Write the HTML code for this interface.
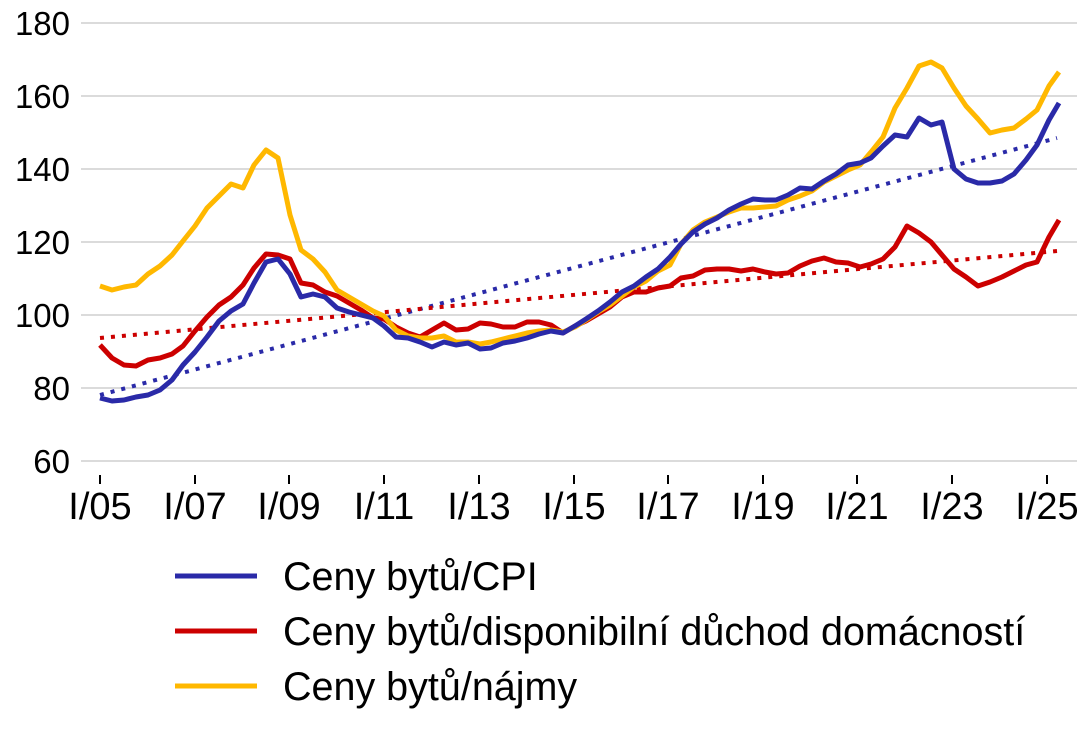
<!DOCTYPE html>
<html><head><meta charset="utf-8"><style>
body{margin:0;background:#fff}
svg text{font-family:"Liberation Sans",Arial,sans-serif;fill:#000}
</style></head><body>
<svg width="1087" height="729" xmlns="http://www.w3.org/2000/svg">
<g stroke="#cfcfcf" stroke-width="1.5">
<line x1="81" x2="1077" y1="23" y2="23"/><line x1="81" x2="1077" y1="96" y2="96"/><line x1="81" x2="1077" y1="169" y2="169"/><line x1="81" x2="1077" y1="242" y2="242"/><line x1="81" x2="1077" y1="315" y2="315"/><line x1="81" x2="1077" y1="388" y2="388"/><line x1="81" x2="1077" y1="461" y2="461"/>
</g>
<g font-size="33" text-anchor="end">
<text x="70" y="35">180</text><text x="70" y="108">160</text><text x="70" y="181">140</text><text x="70" y="254">120</text><text x="70" y="327">100</text><text x="70" y="400">80</text><text x="70" y="473">60</text>
</g>
<g stroke="#000" stroke-width="2">
<line x1="100" x2="100" y1="475" y2="484"/><line x1="195" x2="195" y1="475" y2="484"/><line x1="289" x2="289" y1="475" y2="484"/><line x1="384" x2="384" y1="475" y2="484"/><line x1="479" x2="479" y1="475" y2="484"/><line x1="574" x2="574" y1="475" y2="484"/><line x1="668" x2="668" y1="475" y2="484"/><line x1="763" x2="763" y1="475" y2="484"/><line x1="857" x2="857" y1="475" y2="484"/><line x1="952" x2="952" y1="475" y2="484"/><line x1="1047" x2="1047" y1="475" y2="484"/>
</g>
<g font-size="38" text-anchor="middle">
<text x="100" y="519">I/05</text><text x="195" y="519">I/07</text><text x="289" y="519">I/09</text><text x="384" y="519">I/11</text><text x="479" y="519">I/13</text><text x="574" y="519">I/15</text><text x="668" y="519">I/17</text><text x="763" y="519">I/19</text><text x="857" y="519">I/21</text><text x="952" y="519">I/23</text><text x="1047" y="519">I/25</text>
</g>
<line x1="100" y1="395" x2="1057" y2="138" stroke="#2a2aa8" stroke-width="4" stroke-dasharray="4,7"/>
<line x1="100" y1="338" x2="1057" y2="251" stroke="#cc0000" stroke-width="4" stroke-dasharray="4,7"/>
<g fill="none" stroke-width="5" stroke-linejoin="round">
<polyline stroke="#cc0000" points="100,345 112,358 124,365 136,366 148,360 160,358 172,354 183,346 195,331 207,317 219,305 231,297 243,285 254,268 266,254 278,255 290,259 301,283 313,285 325,292 337,296 349,303 361,310 373,318 384,319 396,327 408,333 420,337 432,330 444,323 456,330 468,329 480,323 491,324 503,327 515,327 527,322 539,322 551,325 563,333 575,326 586,321 598,314 610,307 622,297 634,292 646,292 658,288 670,286 681,278 693,276 705,270 717,269 729,269 741,271 753,269 765,272 776,274 788,273 800,266 812,261 824,258 836,262 848,263 860,267 871,264 883,259 895,247 907,226 919,233 931,242 942,255 954,269 966,277 978,286 990,282 1002,277 1014,271 1026,265 1037,262 1049,237 1059,220"/>
<polyline stroke="#ffb800" points="100,286 112,290 124,287 136,285 148,274 160,266 172,255 183,241 195,226 207,208 219,196 231,184 243,188 254,165 266,150 278,158 290,215 301,250 313,259 325,272 337,290 349,297 361,304 373,311 384,316 396,330 408,336 420,338 432,338 444,336 456,342 468,342 480,344 491,342 503,339 515,336 527,333 539,331 551,330 563,332 575,327 586,320 598,312 610,305 622,296 634,287 646,281 658,271 670,265 681,244 693,230 705,222 717,217 729,212 741,208 753,208 765,207 776,206 788,200 800,196 812,191 824,182 836,176 848,170 860,165 871,152 883,137 895,108 907,88 919,66 931,62 942,68 954,88 966,106 978,119 990,133 1002,130 1014,128 1026,119 1037,110 1049,86 1059,72"/>
<polyline stroke="#2a2aa8" points="100,398 112,401 124,400 136,397 148,395 160,390 172,380 183,365 195,352 207,337 219,321 231,311 243,304 254,283 266,262 278,259 290,274 301,297 313,294 325,297 337,308 349,312 361,315 373,318 384,326 396,337 408,338 420,342 432,347 444,342 456,345 468,343 480,349 491,348 503,343 515,341 527,338 539,334 551,331 563,333 575,326 586,319 598,311 610,302 622,292 634,286 646,277 658,269 670,257 681,244 693,232 705,224 717,218 729,210 741,204 753,199 765,200 776,200 788,195 800,188 812,189 824,181 836,174 848,165 860,163 871,158 883,146 895,135 907,137 919,118 931,125 942,122 954,169 966,179 978,183 990,183 1002,181 1014,174 1026,160 1037,145 1049,120 1059,103"/>
</g>
<g stroke-width="5">
<line x1="175" x2="257" y1="576" y2="576" stroke="#2a2aa8"/>
<line x1="175" x2="257" y1="631" y2="631" stroke="#cc0000"/>
<line x1="175" x2="257" y1="686" y2="686" stroke="#ffb800"/>
</g>
<g font-size="39.5">
<text x="283" y="590">Ceny bytů/CPI</text>
<text x="283" y="645">Ceny bytů/disponibilní důchod domácností</text>
<text x="283" y="700">Ceny bytů/nájmy</text>
</g>
</svg>
</body></html>
